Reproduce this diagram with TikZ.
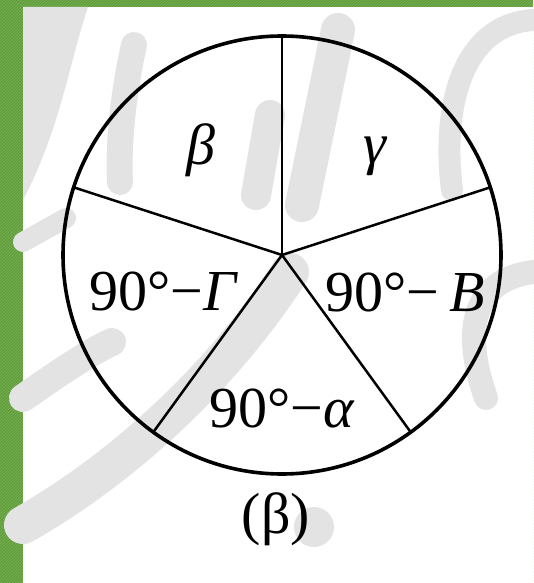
\documentclass[tikz,border=0pt]{standalone}
\usepackage{fontspec}
\setmainfont{Liberation Serif}
\newfontfamily\lblfont{Liberation Serif}
\usetikzlibrary{patterns}

\begin{document}
\begin{tikzpicture}[x=1pt, y=-1pt]
  \definecolor{framecol}{RGB}{98,158,62}
  \definecolor{stripecol}{RGB}{122,178,84}
  \colorlet{wmcol}{black!11}
  \tikzset{
    rim/.style={circle, draw, line width=3.6pt, minimum size=438pt,
      inner sep=0pt, outer sep=0pt},
    spoke/.style={line width=2.5pt},
    lbl/.style={font=\lblfont\fontsize{58}{64}\selectfont, inner sep=0pt},
    wm/.style={draw=wmcol, line width=#1, line cap=round},
    wm/.default=30pt
  }
  \useasboundingbox (0,0) rectangle (533,583);
  % green frame
  \fill[framecol] (0,0) rectangle (533,583);
  \fill[pattern=north east lines, pattern color=stripecol] (0,0) rectangle (533,583);
  \fill[white] (23,7) rectangle (533,583);
  % faint watermark behind the figure
  \fill[wmcol] (23,7) -- (88,7) .. controls (70,60) and (60,130) .. (23,200) -- cycle;
  \draw[wm=26pt] (134,45) .. controls (124,90) and (118,140) .. (120,182);
  \draw[wm=30pt] (270,115) -- (256,195);
  \draw[wm=34pt] (338,30) -- (302,205);
  \draw[wm=22pt] (533,20) .. controls (460,25) and (442,110) .. (452,190);
  \draw[wm=24pt] (533,272) .. controls (472,280) and (462,330) .. (486,398);
  \draw[wm=38pt] (23,525) .. controls (120,470) and (220,380) .. (290,272);
  \draw[wm=28pt] (23,398) .. controls (60,372) and (90,352) .. (112,342);
  \draw[wm=20pt] (23,242) -- (66,218);
  \fill[wmcol] (314,527) circle (20);
  % the disc
  \coordinate (o) at (282,255);
  \node[rim] (disc) at (o) {};
  \draw[spoke] (o) -- (disc.90);
  \draw[spoke] (o) -- (disc.18);
  \draw[spoke] (o) -- (disc.162);
  \draw[spoke] (o) -- (disc.234);
  \draw[spoke] (o) -- (disc.306);
  \node[lbl] (beta) at (201,150) {\textit{β}};
  \node[lbl] (gamma) at (376,156) {\textit{γ}};
  \node[lbl] (gamC) at (164,291) {90°−\textit{Γ}};
  \node[lbl] (betB) at (405,292) {90°−\,\textit{B}};
  \node[lbl] (alpA) at (282,409) {90°−\textit{α}};
  \node[lbl] (caption) at (276,519) {(β)};
\end{tikzpicture}
\end{document}
